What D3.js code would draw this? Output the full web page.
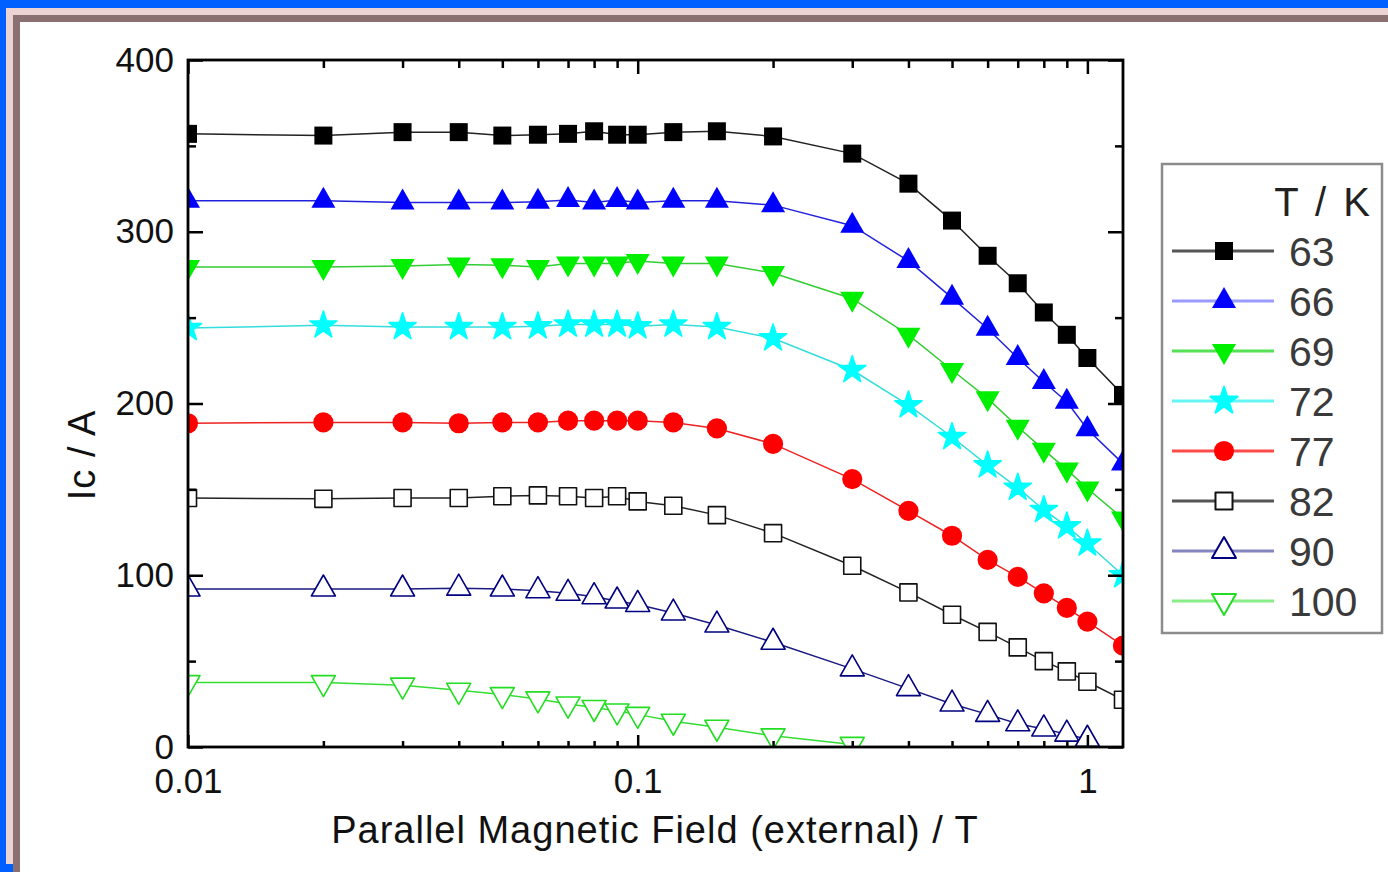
<!DOCTYPE html>
<html>
<head>
<meta charset="utf-8">
<script src="https://cdn.jsdelivr.net/npm/d3@7"></script>
<style>
  body { margin:0; background:#fff; }
  text { font-family:"Liberation Sans", Arial, sans-serif; }
</style>
</head>
<body>
<svg id="chart" width="1388" height="872"></svg>
<script>
// field values (T) shared by all series, each series uses the first n of them
const fieldT = [0.01,0.02,0.03,0.04,0.05,0.06,0.07,0.08,0.09,0.1,0.12,0.15,0.2,0.3,0.4,0.5,0.6,0.7,0.8,0.9,1.0,1.2];

const ic63  = [357,356,358,358,356,356.5,357,358.5,356.5,356.5,358,358.5,355.5,345.5,328,306.5,286,270,253,240,226.5,205];
const ic66  = [318,318,317,317,317,317.5,318.5,317,318.5,317,318,318,315.5,303.5,283,261.5,243.5,226.5,212.5,201,185,165];
const ic69  = [279.5,279.5,280,281,280.5,279.5,281.5,281.5,281.5,283,281.5,281.5,276,261,240,219.5,203,186.5,173,161.5,150.5,133];
const ic72  = [244,245.5,244.5,244.5,244.5,245,246,246,246,245,246,244.5,238,219.5,199,180.5,164,151,138,128.5,118.5,100];
const ic77  = [188.5,189,189,188.5,189,189,190,190,190,190,189,185.5,176.5,156,137.5,123,109,99,89.5,81,73,59];
const ic82  = [145,144.5,145,145,146,146.5,146,145,146,143,140.5,135,124.5,105.5,90,77,67,58,50,44,38,27.5];
const ic90  = [92,92,92,92.5,92,91,89.5,87.5,85,83,78,71,61,45.5,34,25,19,13.5,10.5,7.5,4.5];
const ic100 = [37.5,37.5,36,33,30.5,28,25,23,21,19,15,11.5,6.5,1.5];

const tempLabels = ["63","66","69","72","77","82","90","100"];
const xMajor = [0.01,0.1,1];
const xMinor = [0.02,0.03,0.04,0.05,0.06,0.07,0.08,0.09,0.2,0.3,0.4,0.5,0.6,0.7,0.8,0.9];
const yMajor = [0,100,200,300,400];
const yMinor = [50,150,250,350];

const svg = d3.select("#chart");

// slide frame
svg.append("rect").attr("x",0).attr("y",0).attr("width",1388).attr("height",872).attr("fill","#fff");
svg.append("rect").attr("x",0).attr("y",0).attr("width",1388).attr("height",8).attr("fill","#0060ff");
svg.append("rect").attr("x",0).attr("y",0).attr("width",6).attr("height",872).attr("fill","#0060ff");
svg.append("rect").attr("x",6).attr("y",8).attr("width",1382).attr("height",7).attr("fill","#ecd3d3");
svg.append("rect").attr("x",6).attr("y",8).attr("width",7).attr("height",856).attr("fill","#ecd3d3");
svg.append("rect").attr("x",6).attr("y",864).attr("width",7).attr("height",8).attr("fill","#0060ff");
svg.append("rect").attr("x",13).attr("y",15).attr("width",1375).attr("height",7).attr("fill","#8a7070");
svg.append("rect").attr("x",13).attr("y",15).attr("width",7).attr("height",857).attr("fill","#8a7070");

const L = 188, R = 1123, T = 60, B = 747;
const x = d3.scaleLog().domain([0.01,1.2]).range([L,R]);
const y = d3.scaleLinear().domain([0,400]).range([B,T]);

// custom triangles, centred on the centroid like Origin does
function triangle(w, h, down) {
  return { draw(ctx) {
    const s = down ? -1 : 1;
    ctx.moveTo(0, -s*2*h/3);
    ctx.lineTo(w/2, s*h/3);
    ctx.lineTo(-w/2, s*h/3);
    ctx.closePath();
  }};
}
const triUp = triangle(24, 21, false), triDown = triangle(24, 21, true);

const series = [
  {vals:ic63,  line:"#222",    mk:d3.symbolSquare, size:324, fill:"#000",    stroke:"none", leg:"#555"},
  {vals:ic66,  line:"#2222dd", mk:triUp,           size:0,   fill:"#0000ff", stroke:"none", leg:"#9a9aff"},
  {vals:ic69,  line:"#33cc33", mk:triDown,         size:0,   fill:"#00ee00", stroke:"none", leg:"#55e055"},
  {vals:ic72,  line:"#33dddd", mk:d3.symbolStar,   size:230, fill:"#00ffff", stroke:"#00ffff", leg:"#66f5f5"},
  {vals:ic77,  line:"#ee2222", mk:d3.symbolCircle, size:320, fill:"#ff0000", stroke:"none", leg:"#ff4a4a"},
  {vals:ic82,  line:"#222",    mk:d3.symbolSquare, size:290, fill:"#fff",    stroke:"#111", leg:"#555"},
  {vals:ic90,  line:"#1a1a80", mk:triUp,           size:0,   fill:"#fff",    stroke:"#000080", leg:"#8585c0"},
  {vals:ic100, line:"#33dd33", mk:triDown,         size:0,   fill:"#fff",    stroke:"#22dd22", leg:"#88ee88"}
];

svg.append("clipPath").attr("id","plotclip")
  .append("rect").attr("x",L).attr("y",T).attr("width",R-L).attr("height",B-T);

const plot = svg.append("g").attr("clip-path","url(#plotclip)");
const line = d3.line().x(d => x(d[0])).y(d => y(d[1]));

series.forEach(function(s) {
  const pts = s.vals.map((v,i) => [fieldT[i], v]);
  plot.append("path").attr("d", line(pts)).attr("fill","none")
    .attr("stroke", s.line).attr("stroke-width",1.5);
  plot.selectAll(null).data(pts).enter().append("path")
    .attr("transform", d => "translate(" + x(d[0]) + "," + y(d[1]) + ")")
    .attr("d", d3.symbol().type(s.mk).size(s.size))
    .attr("fill", s.fill).attr("stroke", s.stroke).attr("stroke-width",1.6)
    .attr("stroke-linejoin","round");
});

// axes, ticks inward
function styleAxis(g) {
  g.select(".domain").remove();
  g.selectAll("line").attr("stroke","#000").attr("stroke-width",2.5);
  g.selectAll("text").attr("font-size",35).attr("fill","#111");
}
svg.append("g").attr("transform","translate(0,"+B+")")
  .call(d3.axisBottom(x).tickValues(xMajor).tickSize(-12).tickPadding(21).tickFormat(d3.format("~g"))).call(styleAxis);
svg.append("g").attr("transform","translate(0,"+B+")")
  .call(d3.axisBottom(x).tickValues(xMinor).tickSize(-6).tickFormat("")).call(styleAxis);
svg.append("g").attr("transform","translate(0,"+T+")")
  .call(d3.axisTop(x).tickValues(xMajor).tickSize(-14).tickFormat("")).call(styleAxis);
svg.append("g").attr("transform","translate(0,"+T+")")
  .call(d3.axisTop(x).tickValues(xMinor).tickSize(-8).tickFormat("")).call(styleAxis);
svg.append("g").attr("transform","translate("+L+",0)")
  .call(d3.axisLeft(y).tickValues(yMajor).tickSize(-15).tickPadding(14)).call(styleAxis);
svg.append("g").attr("transform","translate("+L+",0)")
  .call(d3.axisLeft(y).tickValues(yMinor).tickSize(-8).tickFormat("")).call(styleAxis);
svg.append("g").attr("transform","translate("+R+",0)")
  .call(d3.axisRight(y).tickValues(yMajor).tickSize(-15).tickFormat("")).call(styleAxis);
svg.append("g").attr("transform","translate("+R+",0)")
  .call(d3.axisRight(y).tickValues(yMinor).tickSize(-8).tickFormat("")).call(styleAxis);

svg.append("rect").attr("x",L).attr("y",T).attr("width",R-L).attr("height",B-T)
  .attr("fill","none").attr("stroke","#000").attr("stroke-width",2.8);

// axis titles
svg.append("text").attr("x",655).attr("y",843).attr("text-anchor","middle")
  .attr("font-size",38).attr("fill","#111").attr("letter-spacing",1)
  .text("Parallel Magnetic Field (external) / T");
svg.append("text").attr("transform","translate(95,455) rotate(-90)").attr("text-anchor","middle")
  .attr("font-size",38).attr("fill","#111").attr("letter-spacing",1)
  .text("Ic / A");

// legend
const leg = svg.append("g");
leg.append("rect").attr("x",1162).attr("y",164).attr("width",220).attr("height",469)
  .attr("fill","#fff").attr("stroke","#8c8c8c").attr("stroke-width",2.5);
leg.append("text").attr("x",1373).attr("y",216).attr("text-anchor","end")
  .attr("font-size",40).attr("fill","#222").attr("letter-spacing",3).text("T / K");
series.forEach(function(s, i) {
  const ly = 251 + i*50;
  leg.append("line").attr("x1",1172).attr("x2",1274).attr("y1",ly).attr("y2",ly)
    .attr("stroke", s.leg).attr("stroke-width",3);
  leg.append("path").attr("transform","translate(1224,"+ly+")")
    .attr("d", d3.symbol().type(s.mk).size(s.size))
    .attr("fill", s.fill).attr("stroke", s.stroke).attr("stroke-width",2)
    .attr("stroke-linejoin","round");
  leg.append("text").attr("x",1289).attr("y",ly).attr("dy","0.36em")
    .attr("font-size",41).attr("fill","#3a3a3a").text(tempLabels[i]);
});
</script>
</body>
</html>
